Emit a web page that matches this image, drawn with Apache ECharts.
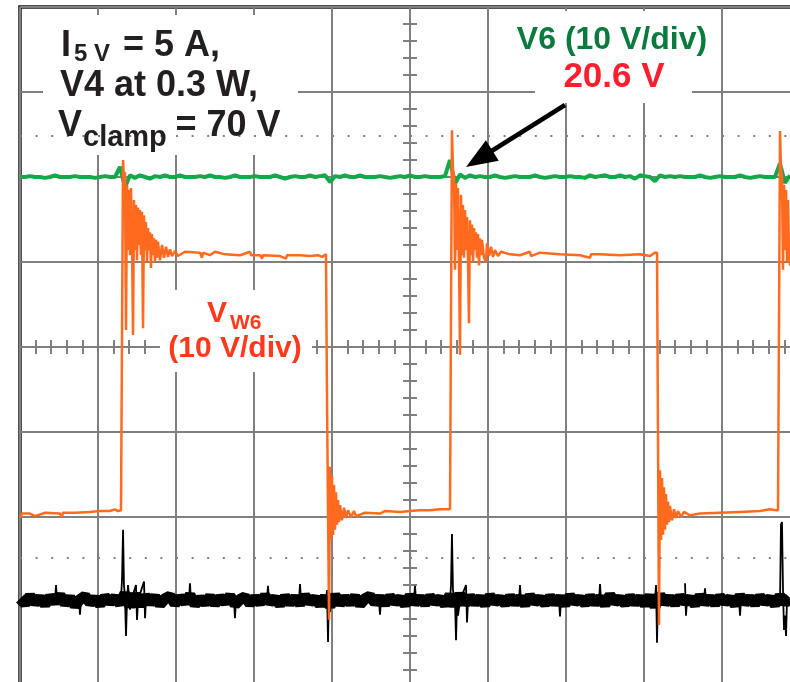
<!DOCTYPE html>
<html>
<head>
<meta charset="utf-8">
<script src="https://cdn.jsdelivr.net/npm/echarts@6/dist/echarts.min.js"></script>
<style>
  html, body { margin: 0; padding: 0; background: #fff; }
  #scope { width: 790px; height: 682px; }
</style>
</head>
<body>
<div id="scope"></div>
<script>
// screen units: x in time divisions (-5..5), y in vertical divisions (-4..4)
const sampleStart = -5;
const sampleStep = 0.0641; // one scope sample every ~5 px

// V6 trace (green), sampled
const v6Values = [
  2.00, 2.00, 2.01, 2.00, 2.00, 1.99, 2.00, 2.02, 2.00, 2.00,
  2.00, 2.01, 2.00, 2.00, 2.00, 1.99, 2.00, 2.01, 2.00, 2.00,
  2.12, 1.88, 2.02, 1.99, 2.02, 2.00, 1.98, 2.01, 2.00, 2.02,
  2.00, 2.00, 2.02, 2.00, 2.00, 2.00, 2.01, 2.00, 2.02, 2.00,
  2.00, 1.99, 2.00, 2.02, 2.00, 2.00, 2.00, 2.01, 2.00, 2.00,
  2.00, 2.02, 2.00, 1.98, 2.00, 2.01, 2.00, 2.00, 2.02, 2.00,
  2.01, 2.02, 1.94, 2.01, 2.00, 2.02, 2.00, 2.00, 2.02, 2.00,
  2.00, 2.00, 2.01, 2.00, 1.99, 2.00, 2.01, 2.00, 2.02, 2.00,
  2.00, 2.01, 2.00, 2.00, 2.00, 2.01, 2.20, 1.92, 2.03, 1.99,
  2.02, 2.00, 2.01, 2.00, 2.00, 2.02, 2.00, 1.99, 2.00, 2.01,
  2.00, 2.00, 2.00, 2.02, 2.00, 1.99, 2.00, 2.01, 2.00, 2.00,
  2.01, 2.00, 2.00, 1.99, 2.02, 2.00, 2.01, 2.02, 2.00, 2.00,
  2.02, 2.00, 2.01, 1.98, 2.02, 2.01, 2.00, 1.95, 2.02, 2.00,
  2.01, 2.00, 2.01, 2.00, 2.00, 2.00, 2.02, 2.00, 1.99, 2.00,
  2.01, 2.00, 2.00, 2.00, 2.02, 2.00, 1.99, 2.00, 2.01, 2.00,
  2.00, 2.00, 2.16, 1.93, 2.02
];

// third channel (black), sampled noise band
const ch3Values = [
  -2.96, -3.02, -2.93, -3.01, -2.95, -3.03, -2.94, -3.00, -2.92, -3.02,
  -2.95, -3.04, -2.97, -2.93, -3.01, -2.96, -3.03, -2.94, -3.00, -2.95,
  -3.02, -2.90, -3.05, -2.91, -3.04, -2.93, -3.01, -2.94, -3.03, -2.96,
  -2.93, -3.02, -2.95, -3.00, -2.92, -3.03, -2.96, -3.01, -2.94, -3.02,
  -2.95, -3.00, -2.93, -3.03, -2.97, -2.94, -3.02, -2.95, -3.01, -2.93,
  -3.00, -2.96, -3.03, -2.94, -3.01, -2.95, -3.02, -2.93, -3.00, -2.96,
  -3.03, -2.94, -3.05, -2.92, -3.02, -2.95, -3.01, -2.94, -3.03, -2.96,
  -2.93, -3.01, -2.95, -3.02, -2.94, -3.00, -2.96, -3.03, -2.93, -3.01,
  -2.95, -3.02, -2.94, -3.00, -2.96, -3.03, -2.92, -3.04, -2.91, -3.02,
  -2.94, -3.01, -2.95, -3.03, -2.93, -3.00, -2.96, -3.02, -2.94, -3.01,
  -2.95, -3.03, -2.93, -3.00, -2.96, -3.02, -2.94, -3.01, -2.95, -3.03,
  -2.93, -3.00, -2.96, -3.02, -2.94, -3.01, -2.95, -3.03, -2.92, -3.00,
  -2.96, -3.02, -2.94, -3.01, -2.95, -3.03, -2.93, -3.05, -2.92, -3.01,
  -2.95, -3.02, -2.94, -3.00, -2.96, -3.03, -2.93, -3.01, -2.95, -3.02,
  -2.94, -3.00, -2.96, -3.03, -2.93, -3.01, -2.95, -3.02, -2.94, -3.00,
  -2.96, -3.03, -2.93, -3.01, -2.95
];

// spikes on the black channel [t, div], null breaks the line
const ch3Spikes = [
  [-4.551, -2.98], [-4.538, -2.80], [-4.525, -2.98], [-4.52, null],
  [-4.244, -2.98], [-4.231, -3.15], [-4.218, -2.98], [-4.21, null],
  [-3.705, -2.95], [-3.692, -2.74], [-3.679, -2.15], [-3.667, -2.80], [-3.654, -2.95],
  [-3.641, -3.40], [-3.628, -2.98], [-3.615, -2.80], [-3.590, -3.09], [-3.564, -2.95],
  [-3.513, -2.80], [-3.500, -3.21], [-3.487, -2.98], [-3.410, -2.76], [-3.397, -3.19],
  [-3.385, -2.98], [-3.38, null],
  [-2.834, -2.98], [-2.821, -2.78], [-2.808, -2.98], [-2.80, null],
  [-2.257, -2.98], [-2.244, -3.19], [-2.231, -2.98], [-2.22, null],
  [-1.834, -2.98], [-1.821, -2.81], [-1.808, -2.98], [-1.80, null],
  [-1.423, -2.98], [-1.410, -2.79], [-1.397, -2.98], [-1.39, null],
  [-1.077, -2.98], [-1.064, -2.86], [-1.051, -3.47], [-1.038, -2.84], [-1.026, -3.12],
  [-1.013, -2.98], [-1.0, null],
  [-0.398, -2.98], [-0.385, -3.15], [-0.372, -2.98], [-0.36, null],
  [0.051, -2.98], [0.064, -2.81], [0.077, -2.98], [0.08, null],
  [0.513, -2.98], [0.526, -2.80], [0.538, -2.20], [0.551, -2.86], [0.577, -2.98],
  [0.590, -3.45], [0.603, -2.98], [0.615, -3.16], [0.641, -2.98], [0.718, -2.80],
  [0.731, -3.24], [0.744, -2.98], [0.75, null],
  [1.397, -2.98], [1.410, -2.80], [1.423, -2.98], [1.43, null],
  [1.910, -2.98], [1.923, -3.17], [1.936, -2.98], [1.94, null],
  [2.423, -2.98], [2.436, -2.79], [2.449, -2.98], [2.46, null],
  [3.141, -2.98], [3.154, -2.80], [3.167, -3.48], [3.179, -2.88], [3.192, -3.12],
  [3.205, -2.98], [3.21, null],
  [3.526, -2.78], [3.538, -3.16], [3.551, -2.98], [3.56, null],
  [3.769, -2.98], [3.782, -2.84], [3.795, -2.98], [3.80, null],
  [4.218, -2.98], [4.231, -3.16], [4.244, -2.98], [4.25, null],
  [4.744, -2.98], [4.756, -2.09], [4.769, -2.06], [4.782, -2.86], [4.795, -3.33],
  [4.808, -3.16], [4.821, -3.40], [4.833, -2.98], [4.872, -3.04]
];

// VW6 trace (orange) [t, div]
const vw6Points = [
  [-5.000, -2.01], [-4.974, -1.96], [-4.872, -1.96], [-4.808, -1.99], [-4.679, -1.95],
  [-4.487, -1.96], [-4.462, -2.00], [-4.449, -1.95], [-4.295, -1.95], [-4.103, -1.94],
  [-3.974, -1.93], [-3.846, -1.93], [-3.782, -1.91], [-3.744, -1.93], [-3.705, -1.92],
  [-3.692, -1.92], [-3.679, 2.20], [-3.667, 1.99], [-3.654, 2.06], [-3.641, 0.20],
  [-3.628, 1.91], [-3.615, 1.14], [-3.603, 1.85], [-3.590, 1.08], [-3.577, 1.87],
  [-3.564, 1.26], [-3.551, 0.14], [-3.538, 1.73], [-3.526, 1.14], [-3.513, 1.67],
  [-3.500, 1.02], [-3.487, 1.64], [-3.474, 1.20], [-3.462, 1.61], [-3.449, 1.08],
  [-3.436, 1.59], [-3.423, 0.22], [-3.410, 1.55], [-3.397, 1.14], [-3.385, 1.47],
  [-3.372, 1.00], [-3.359, 1.40], [-3.346, 1.14], [-3.333, 1.35], [-3.321, 0.93],
  [-3.308, 1.33], [-3.295, 1.08], [-3.282, 1.28], [-3.269, 1.00], [-3.256, 1.26],
  [-3.244, 1.05], [-3.231, 1.24], [-3.205, 1.02], [-3.179, 1.20], [-3.154, 1.05],
  [-3.128, 1.18], [-3.103, 1.06], [-3.077, 1.15], [-3.051, 1.07], [-3.013, 1.13],
  [-2.974, 1.07], [-2.885, 1.12], [-2.692, 1.11], [-2.667, 1.05], [-2.654, 1.11],
  [-2.564, 1.08], [-2.500, 1.12], [-2.372, 1.09], [-2.179, 1.08], [-2.051, 1.12],
  [-2.038, 1.08], [-1.923, 1.08], [-1.897, 1.04], [-1.885, 1.08], [-1.667, 1.07],
  [-1.590, 1.04], [-1.577, 1.08], [-1.410, 1.08], [-1.282, 1.07], [-1.179, 1.08],
  [-1.128, 1.06], [-1.077, 1.09],
  [-1.064, -0.62], [-1.051, -0.62], [-1.038, -3.21], [-1.026, -1.41], [-1.013, -2.27],
  [-1.000, -1.51], [-0.987, -2.21], [-0.974, -1.62], [-0.962, -2.15], [-0.949, -1.71],
  [-0.936, -2.09], [-0.923, -1.80], [-0.910, -2.06], [-0.897, -1.86], [-0.872, -2.04],
  [-0.846, -1.89], [-0.821, -2.01], [-0.795, -1.92], [-0.756, -2.00], [-0.718, -1.93],
  [-0.692, -1.99], [-0.577, -1.95], [-0.385, -1.96], [-0.321, -1.93], [-0.128, -1.94],
  [0.000, -1.93], [0.128, -1.92], [0.256, -1.92], [0.385, -1.91], [0.513, -1.91],
  [0.526, -1.91], [0.538, 2.55],
  [0.551, 2.08], [0.564, 2.02], [0.577, 0.91], [0.590, 1.93], [0.603, 1.14],
  [0.615, 1.87], [0.628, 1.00], [0.641, -0.09], [0.654, 1.79], [0.667, 1.08],
  [0.679, 1.67], [0.692, 1.05], [0.705, 1.61], [0.718, 1.14], [0.731, 1.53],
  [0.744, 1.00], [0.756, 0.28], [0.769, 1.49], [0.782, 1.08], [0.795, 1.44],
  [0.808, 1.00], [0.821, 1.40], [0.833, 1.14], [0.846, 1.35], [0.859, 1.05],
  [0.872, 1.33], [0.885, 0.96], [0.897, 1.28], [0.910, 1.08], [0.923, 1.26],
  [0.949, 1.05], [0.974, 1.00], [0.987, 1.22], [1.013, 1.07], [1.038, 1.18],
  [1.064, 1.06], [1.090, 1.14], [1.128, 1.07], [1.167, 1.12],
  [1.282, 1.09], [1.410, 1.08], [1.538, 1.12], [1.551, 1.07], [1.667, 1.11],
  [1.923, 1.09], [2.179, 1.08], [2.308, 1.05], [2.321, 1.09], [2.436, 1.09],
  [2.692, 1.08], [2.949, 1.09], [3.077, 1.07], [3.141, 1.11], [3.154, 1.12],
  [3.167, 1.11],
  [3.179, -0.98], [3.192, -3.27], [3.205, -1.45], [3.218, -2.27], [3.231, -1.54],
  [3.244, -2.21], [3.256, -1.65], [3.269, -2.15], [3.282, -1.73], [3.295, -2.09],
  [3.308, -1.82], [3.321, -2.06], [3.333, -1.87], [3.359, -2.04], [3.385, -1.91],
  [3.410, -2.01], [3.436, -1.93], [3.474, -2.00], [3.513, -1.94], [3.590, -1.98],
  [3.718, -1.96], [3.974, -1.95], [4.231, -1.94], [4.487, -1.93], [4.615, -1.91],
  [4.692, -1.92], [4.718, -1.92], [4.731, -1.92], [4.744, 2.54], [4.756, 2.08],
  [4.769, 2.02], [4.782, 0.91], [4.795, 1.91], [4.808, 1.14], [4.821, 1.85],
  [4.833, 1.00], [4.846, 1.73], [4.859, 1.10], [4.872, 0.96], [4.936, 1.67]
];

// dotted cursor levels
const markerLevels = [2.48, -2.48];

const gridColor = '#808080';
const font = '"Liberation Sans", Arial, sans-serif';

function sampled(values) {
  return values.map(function (v, i) { return [sampleStart + i * sampleStep, v]; });
}

function centerAxis(position, withSplit) {
  return {
    type: 'value',
    position: position,
    axisLine: { show: true, onZero: true, onZeroAxisIndex: 0, lineStyle: { color: gridColor, width: 2 } },
    axisTick: { show: true, length: 7, lineStyle: { color: gridColor, width: 2 } },
    minorTick: { show: true, splitNumber: 5, length: 7, lineStyle: { color: gridColor, width: 2 } },
    axisLabel: { show: false },
    splitLine: { show: withSplit, lineStyle: { color: gridColor, width: 2 } }
  };
}

function label(text, x, y, size, color, align) {
  return {
    type: 'text', z: 10,
    style: { text: text, x: x, y: y, font: 'bold ' + size + 'px ' + font, fill: color, align: align || 'left', verticalAlign: 'middle' }
  };
}

const myChart = echarts.init(document.getElementById('scope'));

const xBottom = Object.assign(centerAxis('bottom', true), { min: -5, max: 5, interval: 1 });
const xTop = Object.assign(centerAxis('top', false), { min: -5, max: 5, interval: 1 });
const yLeft = Object.assign(centerAxis('left', true), { min: -4, max: 4, interval: 1 });
const yRight = Object.assign(centerAxis('right', false), { min: -4, max: 4, interval: 1 });

myChart.setOption({
  animation: false,
  backgroundColor: '#fff',
  grid: {
    left: 20, top: 7, width: 780, height: 680,
    outerBoundsMode: 'none',
    show: true, backgroundColor: '#fff', borderColor: '#1a1a1a', borderWidth: 3.5
  },
  xAxis: [xBottom, xTop],
  yAxis: [yLeft, yRight],
  series: [
    {
      name: 'V6',
      type: 'line',
      showSymbol: false,
      lineStyle: { color: '#14a84a', width: 4 },
      data: sampled(v6Values),
      markLine: {
        silent: true,
        symbol: ['none', 'none'],
        label: { show: false },
        lineStyle: { color: gridColor, width: 2, type: [2, 13.6] },
        data: markerLevels.map(function (v) { return { yAxis: v }; })
      }
    },
    {
      name: 'CH3',
      type: 'line',
      showSymbol: false,
      lineStyle: { color: '#000', width: 11 },
      data: sampled(ch3Values)
    },
    {
      name: 'CH3 spikes',
      type: 'line',
      showSymbol: false,
      connectNulls: false,
      lineStyle: { color: '#000', width: 1.8 },
      data: ch3Spikes
    },
    {
      name: 'VW6',
      type: 'line',
      showSymbol: false,
      lineStyle: { color: '#ff6a1f', width: 2.5 },
      data: vw6Points
    }
  ],
  graphic: {
    elements: [
      // white label backgrounds
      { type: 'rect', z: 1, shape: { x: 43, y: 15, width: 255, height: 140 }, style: { fill: '#fff' } },
      { type: 'rect', z: 1, shape: { x: 515, y: 11, width: 195, height: 50 }, style: { fill: '#fff' } },
      { type: 'rect', z: 1, shape: { x: 535, y: 60, width: 157, height: 43 }, style: { fill: '#fff' } },
      { type: 'rect', z: 1, shape: { x: 160, y: 290, width: 152, height: 82 }, style: { fill: '#fff' } },
      // operating point
      label('I', 61, 45.8, 36, '#231f20'),
      label('5 V', 74, 54.6, 24, '#231f20'),
      label('= 5 A,', 123, 45.8, 36, '#231f20'),
      label('V4 at 0.3 W,', 60, 85.8, 36, '#231f20'),
      label('V', 58, 125.8, 36, '#231f20'),
      label('clamp', 83, 138, 29, '#231f20'),
      label('= 70 V', 175.5, 125.8, 36, '#231f20'),
      // V6 label
      label('V6 (10 V/div)', 612, 40, 32, '#0b7a3e', 'center'),
      label('20.6 V', 614, 77, 35, '#ff1e2d', 'center'),
      // VW6 label
      label('V', 207, 313.7, 30, '#ff3a1c'),
      label('W6', 230, 323.5, 21, '#ff3a1c'),
      label('(10 V/div)', 235, 348.5, 30, '#ff3a1c', 'center'),
      // arrow to the V6 peak
      { type: 'line', z: 10, shape: { x1: 565, y1: 105, x2: 490, y2: 152 }, style: { stroke: '#000', lineWidth: 4.5 } },
      { type: 'polygon', z: 10, shape: { points: [[466, 167], [498.7, 160.7], [485.9, 140.3]] }, style: { fill: '#000' } }
    ]
  }
});
</script>
</body>
</html>
